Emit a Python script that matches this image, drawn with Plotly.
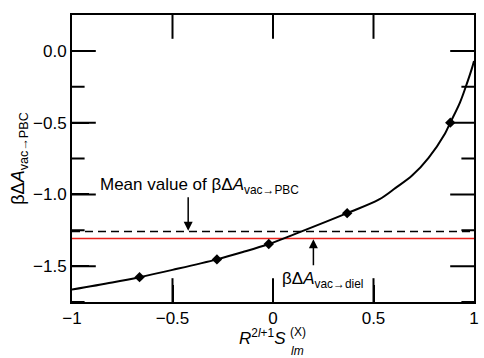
import plotly.graph_objects as go

# curve
curve_x = [-1.0, -0.8, -0.664, -0.5, -0.279, -0.15, -0.021, 0.13, 0.369, 0.528, 0.61, 0.692,
           0.774, 0.856, 0.882, 0.93, 0.959, 0.99, 1.0]
curve_y = [-1.663, -1.614, -1.577, -1.526, -1.453, -1.402, -1.346, -1.265, -1.131, -1.035, -0.955,
           -0.869, -0.745, -0.575, -0.5, -0.36, -0.25, -0.12, -0.07]

# computed points (diamonds)
pts_x = [-0.664, -0.279, -0.021, 0.369, 0.882]
pts_y = [-1.577, -1.453, -1.346, -1.131, -0.5]

mean_pbc = -1.259
diel_val = -1.308
line_x = [-1.0, 1.0]

x_range = [-1, 1]
y_range = [-1.75, 0.25]
x_tick_step = 0.5
y_tick_step = 0.5
x_major_ticks = [-0.5, 0.0, 0.5]
y_major_ticks = [0.0, -0.5, -1.0, -1.5]
y_minor_ticks = [-0.25, -0.75, -1.25, -1.75]

FONT = "Liberation Sans, Arial, Helvetica, sans-serif"

fig = go.Figure()
fig.add_trace(go.Scatter(x=line_x, y=[mean_pbc, mean_pbc], mode="lines",
                         line=dict(color="black", width=1.6, dash="8px,5px"), hoverinfo="skip"))
fig.add_trace(go.Scatter(x=line_x, y=[diel_val, diel_val], mode="lines",
                         line=dict(color="#e8201a", width=1.6), hoverinfo="skip"))
fig.add_trace(go.Scatter(x=curve_x, y=curve_y, mode="lines",
                         line=dict(color="black", width=2, shape="spline", smoothing=1.0)))
fig.add_trace(go.Scatter(x=pts_x, y=pts_y, mode="markers",
                         marker=dict(symbol="diamond", size=8, color="black")))


def tick_marks(xs, ys, symbol, length):
    # tick marks on the frame, half clipped by the plot area -> inward ticks
    fig.add_trace(go.Scatter(x=xs, y=ys, mode="markers", cliponaxis=True, hoverinfo="skip",
                             marker=dict(symbol=symbol, size=2 * length, color="black",
                                         line=dict(width=2, color="black"))))


for xe in x_range:  # left and right frame
    tick_marks([xe] * len(y_major_ticks), y_major_ticks, "line-ew", 17)
    tick_marks([xe] * len(y_minor_ticks), y_minor_ticks, "line-ew", 9)
for ye in y_range:  # bottom and top frame
    tick_marks(x_major_ticks, [ye] * len(x_major_ticks), "line-ns", 17)

fig.add_annotation(x=-0.87, y=-0.945, xref="x", yref="y", xanchor="left", yanchor="middle",
                   text="Mean value of βΔ<i>A</i><sub>vac→PBC</sub>", showarrow=False,
                   font=dict(size=17, color="black", family=FONT))
fig.add_annotation(x=-0.422, y=-1.254, ax=-0.422, ay=-1.009, xref="x", yref="y",
                   axref="x", ayref="y", text="", showarrow=True, arrowhead=2,
                   arrowsize=1.2, arrowwidth=1.5, arrowcolor="black")
fig.add_annotation(x=0.035, y=-1.60, xref="x", yref="y", xanchor="left", yanchor="middle",
                   text="βΔ<i>A</i><sub>vac→diel</sub>", showarrow=False,
                   font=dict(size=17, color="black", family=FONT))
fig.add_annotation(x=0.201, y=-1.313, ax=0.201, ay=-1.505, xref="x", yref="y",
                   axref="x", ayref="y", text="", showarrow=True, arrowhead=2,
                   arrowsize=1.2, arrowwidth=1.5, arrowcolor="black")

# x-axis title built from pieces (stacked sup/sub on S)
fig.add_annotation(x=0.538, y=-0.078, xref="paper", yref="paper", xanchor="right", yanchor="top",
                   text="<i>R</i><sup>2<i>l</i>+1</sup><i>S</i>", showarrow=False,
                   font=dict(size=17, color="black", family=FONT))
fig.add_annotation(x=0.538, y=-0.072, xref="paper", yref="paper", xanchor="left", yanchor="top",
                   text="(X)", showarrow=False, font=dict(size=12, color="black", family=FONT))
fig.add_annotation(x=0.541, y=-0.138, xref="paper", yref="paper", xanchor="left", yanchor="top",
                   text="<i>lm</i>", showarrow=False, font=dict(size=12, color="black", family=FONT))

fig.update_layout(
    width=484, height=358,
    margin=dict(l=72, r=5, t=15, b=56),
    plot_bgcolor="white", paper_bgcolor="white",
    showlegend=False,
    font=dict(family=FONT, size=17, color="black"),
)
fig.update_xaxes(range=x_range, tickmode="linear", tick0=-1, dtick=x_tick_step,
                 ticks="inside", ticklen=17, tickwidth=2, tickcolor="#000000",
                 showline=True, linewidth=2, linecolor="black", mirror=True,
                 showgrid=False, zeroline=False)
fig.update_yaxes(range=y_range, tickmode="linear", tick0=0, dtick=y_tick_step, tickformat=".1f",
                 ticks="inside", ticklen=17, tickwidth=2, tickcolor="#000000",
                 showline=True, linewidth=2, linecolor="black", mirror=True,
                 showgrid=False, zeroline=False,
                 title=dict(text="βΔ<i>A</i><sub>vac→PBC</sub>", standoff=4,
                            font=dict(size=18, family=FONT)))

fig.write_html("out.html")
